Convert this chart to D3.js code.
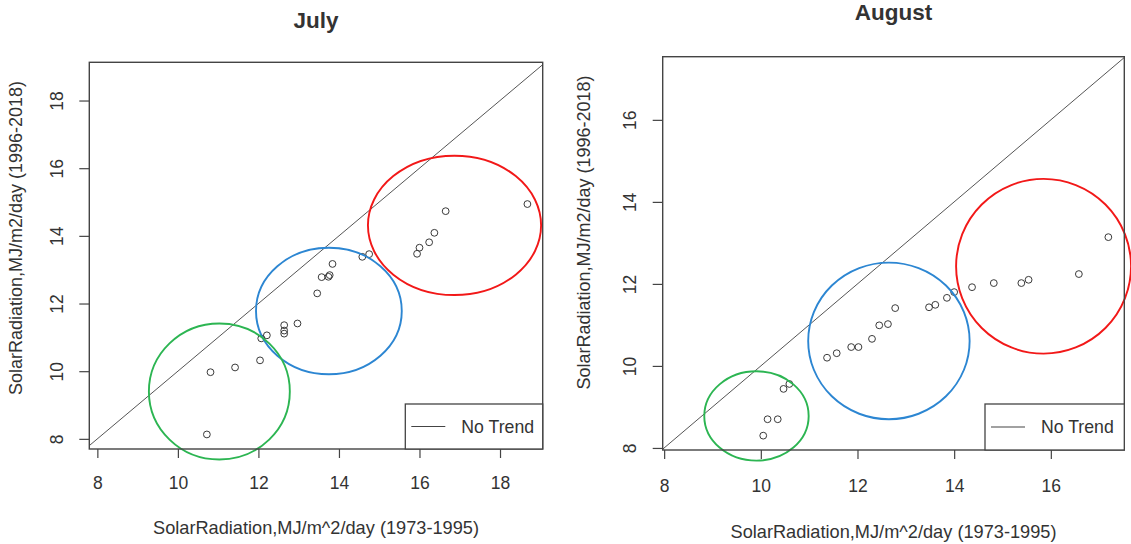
<!DOCTYPE html>
<html>
<head>
<meta charset="utf-8">
<script src="https://cdn.jsdelivr.net/npm/d3@7"></script>
<style>
  html, body { margin: 0; padding: 0; background: #ffffff; }
  svg text { font-family: "Liberation Sans", Arial, sans-serif; fill: #333; }
</style>
</head>
<body>
<svg id="chart" width="1131" height="544"></svg>
<script>
// Monthly mean solar radiation, MJ/m^2/day: 1973-1995 (x) vs 1996-2018 (y)
const julyX = [18.68, 16.65, 16.37, 16.24, 16.00, 15.94, 14.75, 14.58, 13.84, 13.77, 13.74, 13.57,
               13.46, 12.97, 12.64, 12.64, 12.64, 12.21, 12.07, 12.04, 11.42, 10.81, 10.72];
const julyY = [14.94, 14.73, 14.09, 13.81, 13.65, 13.47, 13.46, 13.38, 13.17, 12.84, 12.79, 12.78,
               12.30, 11.41, 11.36, 11.20, 11.11, 11.06, 10.97, 10.32, 10.11, 9.97, 8.13];

const augX = [17.19, 16.58, 15.54, 15.39, 14.82, 14.37, 14.00, 13.85, 13.61, 13.48, 12.78, 12.63,
              12.45, 12.30, 12.02, 11.87, 11.57, 11.37, 10.59, 10.47, 10.35, 10.14, 10.05];
const augY = [13.14, 12.24, 12.10, 12.02, 12.02, 11.92, 11.80, 11.66, 11.49, 11.43, 11.41, 11.02,
              10.99, 10.66, 10.46, 10.46, 10.31, 10.20, 9.56, 9.44, 8.70, 8.70, 8.30];

// Tick labels
const julyTicks = [8, 10, 12, 14, 16, 18];
const augTicks = [8, 10, 12, 14, 16];

// Group outlines in data units: centre x, centre y, radius x, radius y (high, mid, low)
const julyGroupCx = [16.87, 13.75, 11.03];
const julyGroupCy = [14.31, 11.78, 9.40];
const julyGroupRx = [2.15, 1.81, 1.75];
const julyGroupRy = [2.06, 1.87, 2.01];

const augGroupCx = [15.85, 12.65, 9.91];
const augGroupCy = [12.43, 10.61, 8.78];
const augGroupRx = [1.81, 1.67, 1.08];
const augGroupRy = [2.13, 1.91, 1.09];

const groupColors = ["#f21818", "#2c86d2", "#2cb552"];

const xTitle = "SolarRadiation,MJ/m^2/day (1973-1995)";
const yTitle = "SolarRadiation,MJ/m2/day (1996-2018)";
const legendLabel = "No Trend";

const svg = d3.select("#chart");

function drawPanel(p) {
  const x = d3.scaleLinear().domain(p.xDomain).range([p.left, p.right]);
  const y = d3.scaleLinear().domain(p.yDomain).range([p.bottom, p.top]);
  const g = svg.append("g");

  const clipId = "clip-" + p.id;
  g.append("clipPath").attr("id", clipId)
    .append("rect")
    .attr("x", p.left).attr("y", p.top)
    .attr("width", p.right - p.left).attr("height", p.bottom - p.top);

  // 1:1 reference line
  const lo = Math.min(p.xDomain[0], p.yDomain[0]);
  const hi = Math.max(p.xDomain[1], p.yDomain[1]);
  g.append("line")
    .attr("clip-path", `url(#${clipId})`)
    .attr("x1", x(lo)).attr("y1", y(lo))
    .attr("x2", x(hi)).attr("y2", y(hi))
    .attr("stroke", "#555").attr("stroke-width", 1);

  // Points
  g.selectAll("circle.pt")
    .data(p.xs.map((v, i) => [v, p.ys[i]]))
    .join("circle")
    .attr("class", "pt")
    .attr("cx", d => x(d[0])).attr("cy", d => y(d[1]))
    .attr("r", 3.4)
    .attr("fill", "none").attr("stroke", "#3a3a3a").attr("stroke-width", 1);

  // Group outlines
  g.selectAll("ellipse.grp")
    .data(p.gcx.map((c, i) => ({ cx: c, cy: p.gcy[i], rx: p.grx[i], ry: p.gry[i], col: groupColors[i] })))
    .join("ellipse")
    .attr("class", "grp")
    .attr("cx", d => x(d.cx)).attr("cy", d => y(d.cy))
    .attr("rx", d => x(d.cx + d.rx) - x(d.cx))
    .attr("ry", d => y(d.cy) - y(d.cy + d.ry))
    .attr("fill", "none").attr("stroke", d => d.col).attr("stroke-width", 1.9);

  // Axes
  const xAxis = g.append("g")
    .attr("transform", `translate(0,${p.bottom})`)
    .call(d3.axisBottom(x).tickValues(p.ticks).tickSize(9).tickSizeOuter(0).tickFormat(d3.format("d")));
  xAxis.select(".domain").remove();
  xAxis.selectAll(".tick line").attr("stroke", "#444").attr("stroke-width", 1.2);
  xAxis.selectAll(".tick text")
    .attr("y", p.xTickOff).attr("dy", "0.35em")
    .style("font-size", "17.5px").attr("fill", "#333");

  const yAxis = g.append("g")
    .attr("transform", `translate(${p.left},0)`)
    .call(d3.axisLeft(y).tickValues(p.ticks).tickSize(10).tickSizeOuter(0).tickFormat(d3.format("d")));
  yAxis.select(".domain").remove();
  yAxis.selectAll(".tick line").attr("stroke", "#444").attr("stroke-width", 1.2);
  yAxis.selectAll(".tick text")
    .attr("x", 0).attr("y", -p.yTickOff).attr("dy", "0.35em")
    .attr("transform", "rotate(-90)")
    .attr("text-anchor", "middle")
    .style("font-size", "17.5px").attr("fill", "#333");

  // Plot box
  g.append("rect")
    .attr("x", p.left).attr("y", p.top)
    .attr("width", p.right - p.left).attr("height", p.bottom - p.top)
    .attr("fill", "none").attr("stroke", "#444").attr("stroke-width", 1.4);

  // Legend
  const lg = g.append("g").attr("transform", `translate(${p.right - p.legW},${p.bottom - p.legH})`);
  lg.append("rect").attr("width", p.legW).attr("height", p.legH)
    .attr("fill", "#fff").attr("stroke", "#444").attr("stroke-width", 1.3);
  lg.append("line")
    .attr("x1", 6).attr("x2", 40).attr("y1", p.legH / 2).attr("y2", p.legH / 2)
    .attr("stroke", "#444").attr("stroke-width", 1.1);
  lg.append("text").attr("x", 56).attr("y", p.legH / 2).attr("dy", "0.35em")
    .style("font-size", "17.7px").text(legendLabel);

  // Titles
  g.append("text")
    .attr("x", (p.left + p.right) / 2).attr("y", p.titleY)
    .attr("text-anchor", "middle")
    .style("font-size", "22.5px").style("font-weight", "bold").attr("fill", "#222")
    .text(p.title);

  g.append("text")
    .attr("x", (p.left + p.right) / 2).attr("y", p.bottom + p.xTitleOff).attr("dy", "0.35em")
    .attr("text-anchor", "middle").style("font-size", "18.2px")
    .text(xTitle);

  g.append("text")
    .attr("transform", `translate(${p.left - p.yTitleOff},${p.yTitleY}) rotate(-90)`)
    .attr("dy", "0.35em")
    .attr("text-anchor", "middle").style("font-size", "18px")
    .text(yTitle);
}

drawPanel({
  id: "jul", title: "July",
  xs: julyX, ys: julyY, ticks: julyTicks,
  gcx: julyGroupCx, gcy: julyGroupCy, grx: julyGroupRx, gry: julyGroupRy,
  xDomain: [7.80, 19.06], yDomain: [7.70, 19.13],
  left: 89.3, right: 542.7, top: 62.3, bottom: 449,
  xTickOff: 33.5, xTitleOff: 78.5, yTickOff: 32.3, yTitleOff: 73.6, yTitleY: 238,
  titleY: 27.5, legW: 137.4, legH: 45
});

drawPanel({
  id: "aug", title: "August",
  xs: augX, ys: augY, ticks: augTicks,
  gcx: augGroupCx, gcy: augGroupCy, grx: augGroupRx, gry: augGroupRy,
  xDomain: [7.97, 17.52], yDomain: [7.95, 17.54],
  left: 662.7, right: 1124.3, top: 56.7, bottom: 450,
  xTickOff: 35.5, xTitleOff: 81.5, yTickOff: 32.7, yTitleOff: 78.7, yTitleY: 232.5,
  titleY: 20, legW: 139.3, legH: 46
});
</script>
</body>
</html>
